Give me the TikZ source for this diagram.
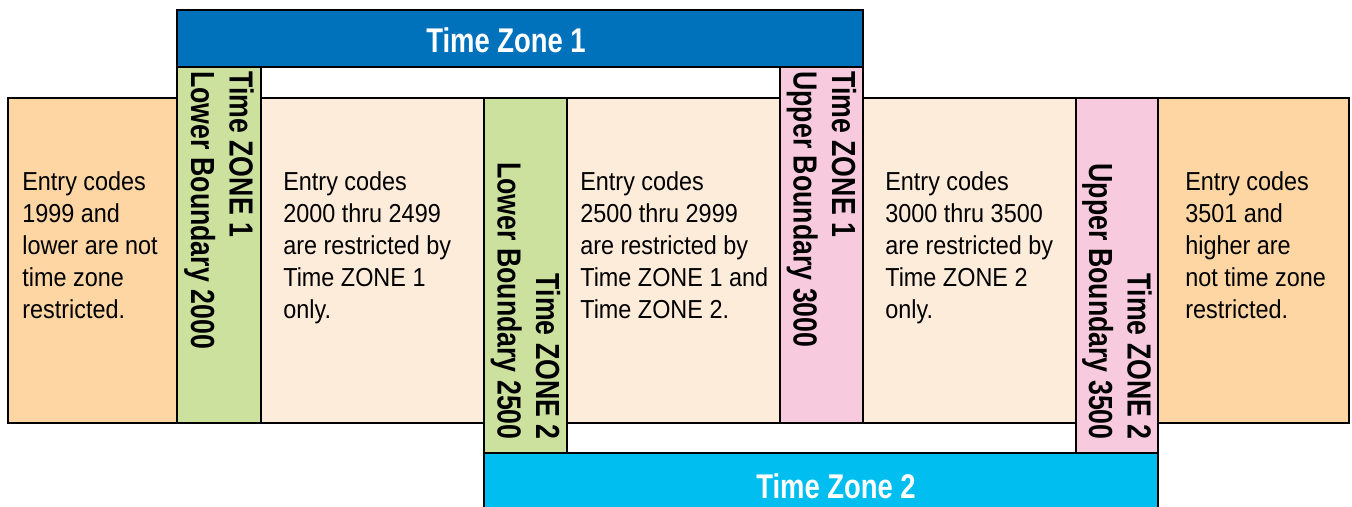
\documentclass[tikz,border=0pt]{standalone}
\usepackage{fontspec}
\setmainfont{Liberation Sans}[FakeStretch=0.9,BoldFeatures={FakeStretch=0.8}]
\definecolor{zoneblue}{RGB}{0,114,188}
\definecolor{zonecyan}{RGB}{0,190,240}
\definecolor{lowergreen}{RGB}{204,225,158}
\definecolor{upperpink}{RGB}{247,202,222}
\definecolor{openorange}{RGB}{253,214,164}
\definecolor{rangepeach}{RGB}{254,236,219}
\usetikzlibrary{positioning}

\begin{document}
\begin{tikzpicture}[
    cell/.style={rectangle,draw=black,line width=1.2pt,minimum height=6.5cm,inner sep=0},
    bound/.style={rectangle,draw=black,line width=1.2pt,minimum width=1.66cm,minimum height=7.11cm,inner sep=0},
    zonebar/.style={rectangle,draw=black,line width=1.2pt,inner sep=0},
    zonetitle/.style={text=white,inner sep=0,font=\bfseries\fontsize{19.5}{22}\selectfont},
    entry/.style={anchor=west,align=left,inner sep=0,font=\fontsize{14.8}{18.2}\selectfont,execute at end node=\strut},
    bndtext/.style={rotate=-90,inner sep=0,font=\bfseries\fontsize{19}{22}\selectfont}
]
    \useasboundingbox (0,0) rectangle (27.04,10.12);

    % zone bars
    \node[zonebar,fill=zoneblue,minimum width=13.72cm,minimum height=1.14cm] (bar1) at (10.40,9.35) {};
    \node[zonebar,fill=zonecyan,minimum width=13.48cm,minimum height=2cm] (bar2) at (16.42,0.06) {};

    % entry code ranges
    \node[cell,fill=openorange,minimum width=3.38cm] (c0) at (1.85,4.91) {};
    \node[cell,fill=rangepeach,minimum width=4.46cm] (c1) at (7.45,4.91) {};
    \node[cell,fill=rangepeach,minimum width=4.26cm] (c2) at (13.47,4.91) {};
    \node[cell,fill=rangepeach,minimum width=4.26cm] (c3) at (19.39,4.91) {};
    \node[cell,fill=openorange,minimum width=3.82cm] (c4) at (25.07,4.91) {};

    % boundaries
    \node[bound,fill=lowergreen,minimum width=1.68cm] (b1) at (4.38,5.22) {};
    \node[bound,fill=lowergreen] (b2) at (10.51,4.61) {};
    \node[bound,fill=upperpink] (b3) at (16.43,5.22) {};
    \node[bound,fill=upperpink,minimum width=1.64cm] (b4) at (22.34,4.61) {};

    \node[zonetitle] (t1) at (10.12,9.32) {Time Zone 1};
    \node[zonetitle] (t2) at (16.72,0.40) {Time Zone 2};

    \node[bndtext,anchor=west,align=left] (l1) at (4.38,8.70) {Time ZONE 1\\Lower Boundary 2000};
    \node[bndtext,anchor=east,align=right] (l2) at (10.51,1.32) {Time ZONE 2\\Lower Boundary 2500};
    \node[bndtext,anchor=west,align=left] (l3) at (16.43,8.70) {Time ZONE 1\\Upper Boundary 3000};
    \node[bndtext,anchor=east,align=right] (l4) at (22.34,1.32) {Time ZONE 2\\Upper Boundary 3500};

    \node[entry] (e0) at (0.44,5.13) {Entry codes\\1999 and\\lower are not\\time zone\\restricted.};
    \node[entry] (e1) at (5.66,5.13) {Entry codes\\2000 thru 2499\\are restricted by\\Time ZONE 1\\only.};
    \node[entry] (e2) at (11.60,5.13) {Entry codes\\2500 thru 2999\\are restricted by\\Time ZONE 1 and\\Time ZONE 2.};
    \node[entry] (e3) at (17.70,5.13) {Entry codes\\3000 thru 3500\\are restricted by\\Time ZONE 2\\only.};
    \node[entry] (e4) at (23.70,5.13) {Entry codes\\3501 and\\higher are\\not time zone\\restricted.};
\end{tikzpicture}
\end{document}
